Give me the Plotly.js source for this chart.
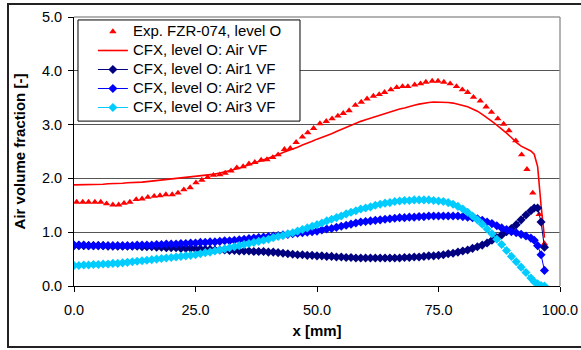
<!DOCTYPE html>
<html>
<head>
<meta charset="utf-8">
<script src="https://cdn.plot.ly/plotly-3.0.1.min.js"></script>
<style>
  html, body { margin: 0; padding: 0; background: #ffffff; }
  #chart { width: 581px; height: 350px; }
</style>
</head>
<body>
<div id="chart"></div>
<script>
// ---------- Data ----------
const expX = [0.55,1.8,3.0,4.3,5.5,6.7,8.0,9.2,10.3,11.5,12.8,14.0,15.2,16.5,17.7,18.9,20.2,21.4,22.6,23.9,
  25.1,26.3,27.5,28.7,30.0,31.1,32.3,33.5,34.8,36.0,37.2,38.5,39.7,40.9,42.0,43.3,44.5,45.7,47.0,48.1,
  49.3,50.6,51.9,53.1,54.3,55.4,56.6,57.9,59.1,60.3,61.6,62.8,63.9,65.2,66.4,67.6,68.7,70.1,71.3,72.4,
  73.7,74.9,76.1,77.4,78.7,79.9,81.0,82.2,83.6,84.8,85.9,87.2,88.4,89.5,90.9,92.1,93.2,94.4,95.7,96.8];
const expY = [1.56,1.56,1.56,1.56,1.56,1.53,1.51,1.51,1.54,1.56,1.61,1.62,1.65,1.67,1.68,1.70,1.70,1.73,1.79,1.83,
  1.92,1.97,2.02,2.06,2.07,2.10,2.14,2.20,2.22,2.27,2.30,2.34,2.35,2.39,2.44,2.54,2.56,2.67,2.77,2.85,
  2.93,3.02,3.06,3.11,3.16,3.21,3.26,3.36,3.42,3.48,3.53,3.56,3.60,3.65,3.69,3.71,3.71,3.74,3.76,3.79,
  3.81,3.81,3.79,3.76,3.71,3.65,3.60,3.51,3.44,3.33,3.23,3.11,3.01,2.89,2.70,2.44,2.17,1.73,1.33,0.79];

const cfxX = [0,1,2,3,4,5,6,7,8,9,10,11,12,13,14,15,16,17,18,19,20,21,22,23,24,25,26,27,28,29,30,
  31,32,33,34,35,36,37,38,39,40,41,42,43,44,45,46,47,48,49,50,51,52,53,54,55,56,57,58,59,60,
  61,62,63,64,65,66,67,68,69,70,71,72,73,74,75,76,77,78,79,80,81,82,83,84,85,86,87,88,89,90,
  91,92,93,94,94.7,95.4,96.1,96.8];

const airVF = [1.88,1.88,1.88,1.88,1.89,1.89,1.89,1.90,1.90,1.91,1.91,
  1.92,1.92,1.93,1.93,1.94,1.95,1.95,1.96,1.97,1.98,
  1.99,2.00,2.01,2.02,2.03,2.04,2.05,2.07,2.08,2.10,
  2.12,2.14,2.17,2.19,2.22,2.25,2.28,2.31,2.35,2.38,
  2.41,2.44,2.48,2.51,2.55,2.58,2.62,2.65,2.69,2.73,
  2.76,2.80,2.83,2.87,2.91,2.94,2.98,3.02,3.06,3.09,
  3.12,3.15,3.18,3.21,3.24,3.26,3.29,3.31,3.34,3.36,
  3.38,3.40,3.41,3.42,3.42,3.42,3.41,3.40,3.38,3.36,
  3.33,3.29,3.25,3.19,3.13,3.06,2.99,2.92,2.84,2.76,
  2.67,2.60,2.56,2.51,2.45,2.22,1.50,0.90];

const air1VF = [0.75,0.75,0.75,0.75,0.75,0.75,0.75,0.74,0.74,0.74,0.74,
  0.74,0.74,0.74,0.73,0.73,0.73,0.72,0.72,0.71,0.71,
  0.71,0.70,0.70,0.70,0.69,0.69,0.68,0.68,0.67,0.67,
  0.67,0.66,0.66,0.65,0.65,0.65,0.64,0.64,0.64,0.63,
  0.63,0.62,0.61,0.60,0.59,0.58,0.58,0.57,0.57,0.56,
  0.56,0.55,0.55,0.54,0.54,0.53,0.53,0.52,0.52,0.52,
  0.52,0.52,0.52,0.52,0.52,0.52,0.52,0.53,0.53,0.54,
  0.54,0.55,0.56,0.56,0.57,0.58,0.60,0.61,0.63,0.65,
  0.67,0.70,0.73,0.76,0.80,0.85,0.90,0.95,1.01,1.07,
  1.14,1.23,1.32,1.40,1.45,1.45,1.19,0.72];

const air2VF = [0.76,0.76,0.76,0.75,0.75,0.75,0.75,0.75,0.75,0.75,0.75,
  0.75,0.75,0.76,0.76,0.76,0.76,0.77,0.77,0.78,0.78,
  0.78,0.79,0.79,0.80,0.80,0.81,0.81,0.82,0.82,0.83,
  0.84,0.84,0.85,0.86,0.87,0.88,0.89,0.90,0.91,0.92,
  0.93,0.94,0.95,0.96,0.97,0.98,0.99,1.00,1.01,1.02,
  1.04,1.06,1.07,1.09,1.11,1.13,1.15,1.17,1.19,1.20,
  1.21,1.22,1.23,1.24,1.25,1.26,1.27,1.27,1.28,1.28,
  1.29,1.29,1.30,1.30,1.30,1.30,1.30,1.30,1.30,1.29,
  1.28,1.27,1.25,1.22,1.19,1.16,1.12,1.08,1.05,1.01,
  0.99,0.96,0.93,0.89,0.85,0.75,0.58,0.29];

const air3VF = [0.38,0.38,0.39,0.39,0.40,0.40,0.41,0.41,0.42,0.42,0.43,
  0.44,0.45,0.46,0.47,0.48,0.49,0.50,0.51,0.52,0.53,
  0.54,0.55,0.56,0.57,0.58,0.60,0.62,0.63,0.65,0.67,
  0.69,0.71,0.73,0.75,0.77,0.79,0.81,0.83,0.85,0.87,
  0.90,0.92,0.94,0.97,0.99,1.02,1.05,1.08,1.11,1.14,
  1.17,1.21,1.24,1.27,1.30,1.34,1.37,1.40,1.43,1.45,
  1.47,1.50,1.52,1.54,1.55,1.57,1.58,1.59,1.59,1.60,
  1.60,1.60,1.60,1.59,1.58,1.57,1.55,1.52,1.48,1.43,
  1.37,1.30,1.23,1.15,1.06,0.97,0.87,0.77,0.66,0.55,
  0.45,0.35,0.25,0.15,0.08,0.04,0.01,0.00];

const seriesNames = ['Exp. FZR-074, level O','CFX, level O: Air VF','CFX, level O: Air1 VF','CFX, level O: Air2 VF','CFX, level O: Air3 VF'];
const xTickVals = [0, 25, 50, 75, 100];
const yTickVals = [0, 1, 2, 3, 4, 5];
const xTitle = 'x [mm]';
const yTitle = 'Air volume fraction [-]';

// ---------- Traces ----------
const FONT = 'Liberation Sans, Arial, sans-serif';
// legend text drawn at 15px while the legend row spacing follows a smaller base font
const legName = (s) => '<span style="font-size:15px">' + s + '</span>';

const traces = [
  { x: expX, y: expY, name: legName(seriesNames[0]), type: 'scatter', mode: 'markers',
    marker: { symbol: 'triangle-up', size: 6.5, color: '#ff0000', line: { width: 0 } } },
  { x: cfxX, y: airVF, name: legName(seriesNames[1]), type: 'scatter', mode: 'lines',
    line: { color: '#ff0000', width: 1.6 } },
  { x: cfxX, y: air1VF, name: legName(seriesNames[2]), type: 'scatter', mode: 'lines+markers',
    line: { color: '#000080', width: 1 }, marker: { symbol: 'diamond', size: 7, color: '#000080', line: { width: 0 } } },
  { x: cfxX, y: air2VF, name: legName(seriesNames[3]), type: 'scatter', mode: 'lines+markers',
    line: { color: '#0000ff', width: 1 }, marker: { symbol: 'diamond', size: 7, color: '#0000ff', line: { width: 0 } } },
  { x: cfxX, y: air3VF, name: legName(seriesNames[4]), type: 'scatter', mode: 'lines+markers',
    line: { color: '#00ccff', width: 1 }, marker: { symbol: 'diamond', size: 7, color: '#00ccff', line: { width: 0 } } }
];

const layout = {
  width: 581, height: 350,
  margin: { l: 74, r: 21, t: 17, b: 64 },
  paper_bgcolor: '#ffffff', plot_bgcolor: '#ffffff',
  font: { family: FONT, size: 14.5, color: '#000000' },
  showlegend: true,
  legend: {
    x: 0.008, y: 1.0, xanchor: 'left', yanchor: 'top',
    bgcolor: 'rgba(0,0,0,0)', borderwidth: 0,
    font: { family: FONT, size: 12.3, color: '#000000' },
    itemwidth: 30, indentation: 15, tracegroupgap: 0
  },
  xaxis: {
    range: [0, 100], tickvals: xTickVals, tickformat: '.1f',
    ticks: 'outside', ticklen: 5, tickcolor: '#000000', tickwidth: 1,
    ticklabelstandoff: 6,
    showline: true, linecolor: '#000000', linewidth: 1,
    showgrid: false, zeroline: false,
    tickfont: { family: FONT, size: 14.5, color: '#000000' },
    title: { text: '<b>' + xTitle + '</b>', font: { family: FONT, size: 15, color: '#000000' }, standoff: 8 }
  },
  yaxis: {
    range: [0, 5], tickvals: yTickVals, tickformat: '.1f',
    ticks: 'outside', ticklen: 5, tickcolor: '#000000', tickwidth: 1,
    ticklabelstandoff: 3,
    showline: true, linecolor: '#000000', linewidth: 1,
    showgrid: true, gridcolor: '#555555', gridwidth: 1, zeroline: false,
    tickfont: { family: FONT, size: 14.5, color: '#000000' },
    title: { text: '<b>' + yTitle + '</b>', font: { family: FONT, size: 15, color: '#000000' }, standoff: 12 }
  },
  shapes: [
    { type: 'line', xref: 'paper', yref: 'paper', x0: 0, x1: 1, y0: 1, y1: 1, line: { color: '#9a9a9a', width: 1.5 } },
    { type: 'line', xref: 'paper', yref: 'paper', x0: 1, x1: 1, y0: 0, y1: 1, line: { color: '#9a9a9a', width: 1.5 } },
    // legend box
    { type: 'rect', xref: 'paper', yref: 'paper', x0: 0.0082, x1: 0.465, y0: 0.613, y1: 0.989,
      line: { color: '#000000', width: 1 }, fillcolor: '#ffffff', layer: 'above' },
    // outer chart frame
    { type: 'rect', xref: 'paper', yref: 'paper', x0: -0.1358, x1: 1.07, y0: -0.2268, y1: 1.0483,
      line: { color: '#222222', width: 2 }, fillcolor: 'rgba(0,0,0,0)', layer: 'below' }
  ]
};

Plotly.newPlot('chart', traces, layout, { staticPlot: true, displayModeBar: false });
</script>
</body>
</html>
